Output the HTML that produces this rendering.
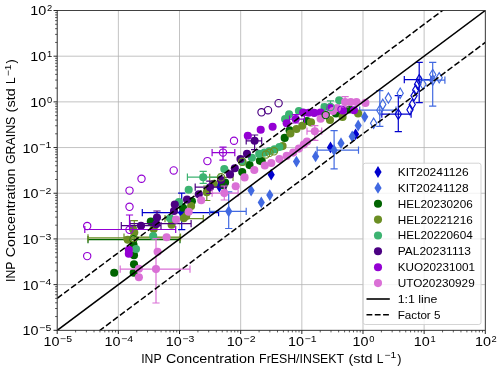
<!DOCTYPE html>
<html><head><meta charset="utf-8"><title>INP Concentration</title>
<style>html,body{margin:0;padding:0;background:#fff;}svg{display:block;will-change:transform;}text{font-family:"Liberation Sans", sans-serif;fill:#000;}</style>
</head><body>
<svg width="500" height="369" viewBox="0 0 500 369">
<rect width="500" height="369" fill="#fff"/>
<defs><clipPath id="ax"><rect x="57.2" y="10.5" width="428.1" height="319.8"/></clipPath></defs>
<path d="M57.20 10.5V330.3M57.2 330.30H485.3M118.36 10.5V330.3M57.2 284.61H485.3M179.51 10.5V330.3M57.2 238.93H485.3M240.67 10.5V330.3M57.2 193.24H485.3M301.83 10.5V330.3M57.2 147.56H485.3M362.99 10.5V330.3M57.2 101.87H485.3M424.14 10.5V330.3M57.2 56.19H485.3M485.30 10.5V330.3M57.2 10.50H485.3" stroke="#b4b4b4" stroke-width="0.8" fill="none"/>
<g clip-path="url(#ax)">
<path d="M142.3 212.6H218.6M142.3 209.0V216.2M218.6 209.0V216.2M181.7 193.1V229.7M178.1 193.1H185.3M178.1 229.7H185.3" stroke="#0000cd" stroke-width="1.2" fill="none"/>
<path d="M381.8 114.2H411.1M381.8 110.6V117.8M411.1 110.6V117.8M398.3 95.7V131.6M394.7 95.7H401.9M394.7 131.6H401.9" stroke="#0000cd" stroke-width="1.2" fill="none"/>
<path d="M404.3 79.7H431.0M404.3 76.1V83.3M431.0 76.1V83.3M419.2 62.3V102.6M415.6 62.3H422.8M415.6 102.6H422.8" stroke="#0000cd" stroke-width="1.2" fill="none"/>
<polygon points="181.7,206.7 185.3,212.6 181.7,218.5 178.1,212.6" fill="#0000cd"/>
<polygon points="219.4,180.6 223.0,186.5 219.4,192.4 215.8,186.5" fill="#0000cd"/>
<polygon points="271.2,168.8 274.8,174.7 271.2,180.6 267.6,174.7" fill="#0000cd"/>
<polygon points="330.5,141.5 334.1,147.4 330.5,153.3 326.9,147.4" fill="#0000cd"/>
<polygon points="355.6,128.4 359.2,134.3 355.6,140.2 352.0,134.3" fill="#0000cd"/>
<path d="M209.6 211.3H246.2M209.6 207.7V214.9M246.2 207.7V214.9M228.7 191.8V228.5M225.1 191.8H232.3M225.1 228.5H232.3" stroke="#4169e1" stroke-width="1.2" fill="none"/>
<path d="M317.1 150.2H358.5M317.1 146.6V153.8M358.5 146.6V153.8M334.1 130.7V168.9M330.5 130.7H337.7M330.5 168.9H337.7" stroke="#4169e1" stroke-width="1.2" fill="none"/>
<path d="M359.7 110.2H396.0M359.7 106.6V113.8M396.0 106.6V113.8M379.8 90.7V126.3M376.2 90.7H383.4M376.2 126.3H383.4" stroke="#4169e1" stroke-width="1.2" fill="none"/>
<path d="M421.0 80.2H444.9M421.0 76.6V83.8M444.9 76.6V83.8M432.7 62.3V106.2M429.1 62.3H436.3M429.1 106.2H436.3" stroke="#4169e1" stroke-width="1.2" fill="none"/>
<polygon points="228.7,205.4 232.3,211.3 228.7,217.2 225.1,211.3" fill="#4169e1"/>
<polygon points="251.1,184.7 254.7,190.6 251.1,196.5 247.5,190.6" fill="#4169e1"/>
<polygon points="261.3,196.5 264.9,202.4 261.3,208.3 257.7,202.4" fill="#4169e1"/>
<polygon points="269.8,189.2 273.4,195.1 269.8,201.0 266.2,195.1" fill="#4169e1"/>
<polygon points="296.5,155.7 300.1,161.6 296.5,167.5 292.9,161.6" fill="#4169e1"/>
<polygon points="315.6,150.5 319.2,156.4 315.6,162.3 312.0,156.4" fill="#4169e1"/>
<polygon points="334.1,144.3 337.7,150.2 334.1,156.1 330.5,150.2" fill="#4169e1"/>
<polygon points="341.0,137.3 344.6,143.2 341.0,149.1 337.4,143.2" fill="#4169e1"/>
<polygon points="352.2,130.6 355.8,136.5 352.2,142.4 348.6,136.5" fill="#4169e1"/>
<polygon points="358.2,119.6 361.8,125.5 358.2,131.4 354.6,125.5" fill="#4169e1"/>
<polygon points="364.7,110.9 368.3,116.8 364.7,122.7 361.1,116.8" fill="#4169e1"/>
<path d="M88.0 239.6H180.0M88.0 236.0V243.2M180.0 236.0V243.2" stroke="#006400" stroke-width="1.2" fill="none"/>
<circle cx="114.2" cy="272.7" r="4.05" fill="#006400"/>
<circle cx="133.7" cy="272.7" r="4.05" fill="#006400"/>
<circle cx="134.0" cy="264.3" r="4.05" fill="#006400"/>
<circle cx="134.0" cy="255.3" r="4.05" fill="#006400"/>
<circle cx="133.5" cy="244.8" r="4.05" fill="#006400"/>
<circle cx="150.8" cy="221.6" r="4.05" fill="#006400"/>
<circle cx="183.0" cy="207.8" r="4.05" fill="#006400"/>
<circle cx="191.9" cy="201.3" r="4.05" fill="#006400"/>
<circle cx="225.1" cy="182.5" r="4.05" fill="#006400"/>
<circle cx="223.5" cy="185.3" r="4.05" fill="#006400"/>
<circle cx="242.2" cy="172.0" r="4.05" fill="#006400"/>
<circle cx="249.5" cy="165.1" r="4.05" fill="#006400"/>
<circle cx="259.9" cy="160.8" r="4.05" fill="#006400"/>
<circle cx="261.7" cy="161.0" r="4.05" fill="#006400"/>
<circle cx="284.7" cy="137.9" r="4.05" fill="#006400"/>
<circle cx="289.6" cy="130.4" r="4.05" fill="#006400"/>
<circle cx="307.0" cy="121.0" r="4.05" fill="#006400"/>
<circle cx="336.0" cy="113.5" r="4.05" fill="#006400"/>
<circle cx="349.5" cy="109.5" r="4.05" fill="#006400"/>
<path d="M88.0 237.8H180.0M88.0 234.2V241.4M180.0 234.2V241.4" stroke="#6b8e23" stroke-width="1.2" fill="none"/>
<path d="M165.0 218.6H203.3M165.0 215.0V222.2M203.3 215.0V222.2" stroke="#6b8e23" stroke-width="1.2" fill="none"/>
<path d="M124.0 237.0H180.5M124.0 233.4V240.6M180.5 233.4V240.6" stroke="#6b8e23" stroke-width="1.2" fill="none"/>
<path d="M206.8 186.0V200.5M203.2 186.0H210.4M203.2 200.5H210.4" stroke="#6b8e23" stroke-width="1.2" fill="none"/>
<path d="M134.3 220.7V239.0M130.7 220.7H137.9M130.7 239.0H137.9" stroke="#6b8e23" stroke-width="1.2" fill="none"/>
<path d="M209.7 177.3H233.0M209.7 173.7V180.9M233.0 173.7V180.9" stroke="#6b8e23" stroke-width="1.2" fill="none"/>
<circle cx="127.8" cy="239.8" r="4.05" fill="#6b8e23"/>
<circle cx="134.3" cy="232.5" r="4.05" fill="#6b8e23"/>
<circle cx="133.0" cy="229.0" r="4.05" fill="#6b8e23"/>
<circle cx="153.7" cy="228.9" r="4.05" fill="#6b8e23"/>
<circle cx="171.6" cy="224.8" r="4.05" fill="#6b8e23"/>
<circle cx="183.8" cy="218.3" r="4.05" fill="#6b8e23"/>
<circle cx="186.2" cy="216.0" r="4.05" fill="#6b8e23"/>
<circle cx="191.1" cy="206.1" r="4.05" fill="#6b8e23"/>
<circle cx="206.8" cy="192.2" r="4.05" fill="#6b8e23"/>
<circle cx="213.7" cy="183.8" r="4.05" fill="#6b8e23"/>
<circle cx="282.6" cy="146.1" r="4.05" fill="#6b8e23"/>
<circle cx="290.4" cy="133.5" r="4.05" fill="#6b8e23"/>
<circle cx="296.5" cy="129.0" r="4.05" fill="#6b8e23"/>
<circle cx="302.3" cy="125.8" r="4.05" fill="#6b8e23"/>
<circle cx="311.0" cy="122.4" r="4.05" fill="#6b8e23"/>
<circle cx="330.0" cy="120.0" r="4.05" fill="#6b8e23"/>
<circle cx="342.6" cy="117.0" r="4.05" fill="#6b8e23"/>
<circle cx="358.1" cy="113.5" r="4.05" fill="#6b8e23"/>
<path d="M187.4 177.2H219.0M187.4 173.6V180.8M219.0 173.6V180.8M203.2 171.4V183.3M199.6 171.4H206.8M199.6 183.3H206.8" stroke="#3cb371" stroke-width="1.2" fill="none"/>
<path d="M322.0 107.0H339.0M322.0 103.4V110.6M339.0 103.4V110.6M330.5 100.8V113.0M326.9 100.8H334.1M326.9 113.0H334.1" stroke="#3cb371" stroke-width="1.2" fill="none"/>
<circle cx="136.0" cy="249.0" r="4.05" fill="#3cb371"/>
<circle cx="153.2" cy="236.0" r="4.05" fill="#3cb371"/>
<circle cx="170.0" cy="218.3" r="4.05" fill="#3cb371"/>
<circle cx="178.9" cy="202.0" r="4.05" fill="#3cb371"/>
<circle cx="188.7" cy="189.8" r="4.05" fill="#3cb371"/>
<circle cx="203.2" cy="177.2" r="4.05" fill="#3cb371"/>
<circle cx="224.3" cy="169.1" r="4.05" fill="#3cb371"/>
<circle cx="242.5" cy="162.0" r="4.05" fill="#3cb371"/>
<circle cx="251.9" cy="157.8" r="4.05" fill="#3cb371"/>
<circle cx="259.2" cy="153.9" r="4.05" fill="#3cb371"/>
<circle cx="279.4" cy="147.0" r="4.05" fill="#3cb371"/>
<circle cx="274.5" cy="149.4" r="4.05" fill="#3cb371"/>
<circle cx="264.5" cy="152.6" r="4.05" fill="#3cb371"/>
<circle cx="269.5" cy="151.1" r="4.05" fill="#3cb371"/>
<circle cx="285.1" cy="119.1" r="4.05" fill="#3cb371"/>
<circle cx="289.1" cy="114.3" r="4.05" fill="#3cb371"/>
<circle cx="298.9" cy="111.0" r="4.05" fill="#3cb371"/>
<circle cx="324.5" cy="107.0" r="4.05" fill="#3cb371"/>
<circle cx="339.2" cy="100.2" r="4.05" fill="#3cb371"/>
<path d="M121.3 225.7H161.0M121.3 222.1V229.3M161.0 222.1V229.3" stroke="#4b0082" stroke-width="1.2" fill="none"/>
<path d="M157.0 211.0V224.0M153.4 211.0H160.6M153.4 224.0H160.6" stroke="#4b0082" stroke-width="1.2" fill="none"/>
<path d="M130.0 223.7H191.1M130.0 220.1V227.3M191.1 220.1V227.3" stroke="#4b0082" stroke-width="1.2" fill="none"/>
<path d="M246.2 140.8H261.7M246.2 137.2V144.4M261.7 137.2V144.4M254.6 135.0V149.6M251.0 135.0H258.2M251.0 149.6H258.2" stroke="#4b0082" stroke-width="1.2" fill="none"/>
<path d="M195.2 187.2H226.0M195.2 183.6V190.8M226.0 183.6V190.8M209.8 181.1V193.5M206.2 181.1H213.4M206.2 193.5H213.4" stroke="#4b0082" stroke-width="1.2" fill="none"/>
<circle cx="141.0" cy="225.7" r="4.05" fill="#4b0082"/>
<circle cx="157.0" cy="217.5" r="4.05" fill="#4b0082"/>
<circle cx="156.1" cy="224.3" r="4.05" fill="#4b0082"/>
<circle cx="174.8" cy="204.5" r="4.05" fill="#4b0082"/>
<circle cx="174.0" cy="211.0" r="4.05" fill="#4b0082"/>
<circle cx="187.0" cy="199.6" r="4.05" fill="#4b0082"/>
<circle cx="198.8" cy="194.3" r="4.05" fill="#4b0082"/>
<circle cx="210.0" cy="187.2" r="4.05" fill="#4b0082"/>
<circle cx="221.0" cy="180.0" r="4.05" fill="#4b0082"/>
<circle cx="230.0" cy="174.4" r="4.05" fill="#4b0082"/>
<circle cx="234.8" cy="168.3" r="4.05" fill="#4b0082"/>
<circle cx="240.5" cy="159.0" r="4.05" fill="#4b0082"/>
<circle cx="247.0" cy="153.7" r="4.05" fill="#4b0082"/>
<circle cx="254.6" cy="140.8" r="4.05" fill="#4b0082"/>
<path d="M84.8 229.5H175.7M84.8 225.9V233.1M175.7 225.9V233.1M129.5 215.0V229.5M125.9 215.0H133.1M125.9 229.5H133.1" stroke="#9400d3" stroke-width="1.2" fill="none"/>
<path d="M212.1 152.6H234.8M212.1 149.0V156.2M234.8 149.0V156.2M223.0 147.2V160.2M219.4 147.2H226.6M219.4 160.2H226.6" stroke="#9400d3" stroke-width="1.2" fill="none"/>
<path d="M289.5 119.1H304.5M289.5 115.5V122.7M304.5 115.5V122.7M295.7 114.6V123.0M292.1 114.6H299.3M292.1 123.0H299.3" stroke="#9400d3" stroke-width="1.2" fill="none"/>
<circle cx="128.8" cy="249.8" r="4.05" fill="#9400d3"/>
<circle cx="128.8" cy="253.7" r="4.05" fill="#9400d3"/>
<circle cx="247.8" cy="135.8" r="4.05" fill="#9400d3"/>
<circle cx="260.7" cy="129.8" r="4.05" fill="#9400d3"/>
<circle cx="272.6" cy="126.8" r="4.05" fill="#9400d3"/>
<circle cx="286.7" cy="123.2" r="4.05" fill="#9400d3"/>
<circle cx="295.7" cy="119.1" r="4.05" fill="#9400d3"/>
<circle cx="303.2" cy="112.6" r="4.05" fill="#9400d3"/>
<circle cx="308.6" cy="112.8" r="4.05" fill="#9400d3"/>
<circle cx="314.2" cy="112.9" r="4.05" fill="#9400d3"/>
<circle cx="320.5" cy="112.5" r="4.05" fill="#9400d3"/>
<circle cx="330.0" cy="107.5" r="4.05" fill="#9400d3"/>
<circle cx="343.0" cy="110.5" r="4.05" fill="#9400d3"/>
<circle cx="354.0" cy="110.2" r="4.05" fill="#9400d3"/>
<path d="M120.2 269.1H190.0M120.2 265.5V272.7M190.0 265.5V272.7M156.0 238.7V303.0M152.4 238.7H159.6M152.4 303.0H159.6" stroke="#da70d6" stroke-width="1.2" fill="none"/>
<path d="M212.1 193.1H238.1M212.1 189.5V196.7M238.1 189.5V196.7M224.3 186.0V200.0M220.7 186.0H227.9M220.7 200.0H227.9" stroke="#da70d6" stroke-width="1.2" fill="none"/>
<path d="M307.0 131.2H321.7M307.0 127.6V134.8M321.7 127.6V134.8M314.8 125.7V140.3M311.2 125.7H318.4M311.2 140.3H318.4" stroke="#da70d6" stroke-width="1.2" fill="none"/>
<path d="M345.1 96.7V107.0M341.5 96.7H348.7M341.5 107.0H348.7" stroke="#da70d6" stroke-width="1.2" fill="none"/>
<circle cx="138.9" cy="268.7" r="4.05" fill="#da70d6"/>
<circle cx="138.9" cy="277.3" r="4.05" fill="#da70d6"/>
<circle cx="157.6" cy="251.7" r="4.05" fill="#da70d6"/>
<circle cx="156.0" cy="269.1" r="4.05" fill="#da70d6"/>
<circle cx="166.6" cy="237.2" r="4.05" fill="#da70d6"/>
<circle cx="176.0" cy="219.5" r="4.05" fill="#da70d6"/>
<circle cx="188.7" cy="211.8" r="4.05" fill="#da70d6"/>
<circle cx="201.2" cy="200.2" r="4.05" fill="#da70d6"/>
<circle cx="224.3" cy="193.1" r="4.05" fill="#da70d6"/>
<circle cx="235.7" cy="186.2" r="4.05" fill="#da70d6"/>
<circle cx="244.6" cy="177.4" r="4.05" fill="#da70d6"/>
<circle cx="254.3" cy="170.0" r="4.05" fill="#da70d6"/>
<circle cx="264.8" cy="165.5" r="4.05" fill="#da70d6"/>
<circle cx="271.3" cy="163.0" r="4.05" fill="#da70d6"/>
<circle cx="279.4" cy="159.1" r="4.05" fill="#da70d6"/>
<circle cx="286.7" cy="155.9" r="4.05" fill="#da70d6"/>
<circle cx="293.2" cy="152.6" r="4.05" fill="#da70d6"/>
<circle cx="298.9" cy="148.6" r="4.05" fill="#da70d6"/>
<circle cx="303.8" cy="144.5" r="4.05" fill="#da70d6"/>
<circle cx="307.0" cy="141.5" r="4.05" fill="#da70d6"/>
<circle cx="314.8" cy="131.2" r="4.05" fill="#da70d6"/>
<circle cx="320.6" cy="118.7" r="4.05" fill="#da70d6"/>
<circle cx="326.0" cy="115.0" r="4.05" fill="#da70d6"/>
<circle cx="333.0" cy="111.0" r="4.05" fill="#da70d6"/>
<circle cx="337.0" cy="108.0" r="4.05" fill="#da70d6"/>
<circle cx="345.1" cy="102.1" r="4.05" fill="#da70d6"/>
<circle cx="350.8" cy="102.1" r="4.05" fill="#da70d6"/>
<circle cx="356.5" cy="102.1" r="4.05" fill="#da70d6"/>
<circle cx="365.4" cy="102.9" r="4.05" fill="#da70d6"/>
<polygon points="398.3,109.0 401.4,114.2 398.3,119.4 395.2,114.2" fill="none" stroke="#0000cd" stroke-width="1.15" stroke-linejoin="miter"/>
<polygon points="410.0,104.6 413.1,109.8 410.0,115.0 406.9,109.8" fill="none" stroke="#0000cd" stroke-width="1.15" stroke-linejoin="miter"/>
<polygon points="412.2,99.3 415.3,104.5 412.2,109.7 409.1,104.5" fill="none" stroke="#0000cd" stroke-width="1.15" stroke-linejoin="miter"/>
<polygon points="414.0,90.5 417.1,95.7 414.0,100.9 410.9,95.7" fill="none" stroke="#0000cd" stroke-width="1.15" stroke-linejoin="miter"/>
<polygon points="415.7,84.8 418.8,90.0 415.7,95.2 412.6,90.0" fill="none" stroke="#0000cd" stroke-width="1.15" stroke-linejoin="miter"/>
<polygon points="417.6,79.1 420.8,84.3 417.6,89.5 414.5,84.3" fill="none" stroke="#0000cd" stroke-width="1.15" stroke-linejoin="miter"/>
<polygon points="419.2,74.5 422.3,79.7 419.2,84.9 416.1,79.7" fill="none" stroke="#0000cd" stroke-width="1.15" stroke-linejoin="miter"/>
<polygon points="373.6,118.1 376.8,123.3 373.6,128.4 370.5,123.3" fill="none" stroke="#4169e1" stroke-width="1.15" stroke-linejoin="miter"/>
<polygon points="379.8,105.0 382.9,110.2 379.8,115.4 376.7,110.2" fill="none" stroke="#4169e1" stroke-width="1.15" stroke-linejoin="miter"/>
<polygon points="382.8,99.2 385.9,104.4 382.8,109.6 379.7,104.4" fill="none" stroke="#4169e1" stroke-width="1.15" stroke-linejoin="miter"/>
<polygon points="388.4,92.9 391.5,98.1 388.4,103.2 385.2,98.1" fill="none" stroke="#4169e1" stroke-width="1.15" stroke-linejoin="miter"/>
<polygon points="400.2,88.0 403.3,93.2 400.2,98.4 397.1,93.2" fill="none" stroke="#4169e1" stroke-width="1.15" stroke-linejoin="miter"/>
<polygon points="423.0,79.1 426.1,84.3 423.0,89.5 419.9,84.3" fill="none" stroke="#4169e1" stroke-width="1.15" stroke-linejoin="miter"/>
<polygon points="432.7,75.0 435.8,80.2 432.7,85.4 429.6,80.2" fill="none" stroke="#4169e1" stroke-width="1.15" stroke-linejoin="miter"/>
<polygon points="432.7,69.3 435.8,74.5 432.7,79.7 429.6,74.5" fill="none" stroke="#4169e1" stroke-width="1.15" stroke-linejoin="miter"/>
<polygon points="439.2,72.6 442.3,77.8 439.2,83.0 436.1,77.8" fill="none" stroke="#4169e1" stroke-width="1.15" stroke-linejoin="miter"/>
<circle cx="133.5" cy="239.3" r="3.65" fill="none" stroke="#006400" stroke-width="1.15"/>
<circle cx="325.7" cy="115.1" r="3.65" fill="none" stroke="#006400" stroke-width="1.15"/>
<circle cx="133.5" cy="238.0" r="3.65" fill="none" stroke="#6b8e23" stroke-width="1.15"/>
<circle cx="221.0" cy="177.3" r="3.65" fill="none" stroke="#6b8e23" stroke-width="1.15"/>
<circle cx="242.2" cy="161.8" r="3.65" fill="none" stroke="#6b8e23" stroke-width="1.15"/>
<circle cx="266.0" cy="154.5" r="3.65" fill="none" stroke="#6b8e23" stroke-width="1.15"/>
<circle cx="269.5" cy="152.8" r="3.65" fill="none" stroke="#6b8e23" stroke-width="1.15"/>
<circle cx="274.0" cy="151.3" r="3.65" fill="none" stroke="#6b8e23" stroke-width="1.15"/>
<circle cx="330.5" cy="107.0" r="3.65" fill="none" stroke="#3cb371" stroke-width="1.15"/>
<circle cx="261.5" cy="112.3" r="3.65" fill="none" stroke="#4b0082" stroke-width="1.15"/>
<circle cx="268.0" cy="110.2" r="3.65" fill="none" stroke="#4b0082" stroke-width="1.15"/>
<circle cx="278.6" cy="103.2" r="3.65" fill="none" stroke="#4b0082" stroke-width="1.15"/>
<circle cx="87.2" cy="226.0" r="3.65" fill="none" stroke="#9400d3" stroke-width="1.15"/>
<circle cx="87.2" cy="256.1" r="3.65" fill="none" stroke="#9400d3" stroke-width="1.15"/>
<circle cx="129.5" cy="190.6" r="3.65" fill="none" stroke="#9400d3" stroke-width="1.15"/>
<circle cx="129.5" cy="206.8" r="3.65" fill="none" stroke="#9400d3" stroke-width="1.15"/>
<circle cx="129.5" cy="229.8" r="3.65" fill="none" stroke="#9400d3" stroke-width="1.15"/>
<circle cx="141.5" cy="178.7" r="3.65" fill="none" stroke="#9400d3" stroke-width="1.15"/>
<circle cx="173.7" cy="170.4" r="3.65" fill="none" stroke="#9400d3" stroke-width="1.15"/>
<circle cx="207.4" cy="161.1" r="3.65" fill="none" stroke="#9400d3" stroke-width="1.15"/>
<circle cx="223.0" cy="152.6" r="3.65" fill="none" stroke="#9400d3" stroke-width="1.15"/>
<circle cx="234.0" cy="140.7" r="3.65" fill="none" stroke="#9400d3" stroke-width="1.15"/>
<circle cx="341.5" cy="109.6" r="3.65" fill="none" stroke="#9400d3" stroke-width="1.15"/>
<path d="M57.2 330.3L485.3 10.5" stroke="#000" stroke-width="1.55" fill="none"/>
<path d="M57.2 298.37L485.3 -21.43M57.2 362.23L485.3 42.43" stroke="#000" stroke-width="1.5" stroke-dasharray="6.1 2.6" fill="none"/>
</g>
<path d="M57.20 330.3v3.7M57.2 330.30h-3.7M118.36 330.3v3.7M57.2 284.61h-3.7M179.51 330.3v3.7M57.2 238.93h-3.7M240.67 330.3v3.7M57.2 193.24h-3.7M301.83 330.3v3.7M57.2 147.56h-3.7M362.99 330.3v3.7M57.2 101.87h-3.7M424.14 330.3v3.7M57.2 56.19h-3.7M485.30 330.3v3.7M57.2 10.50h-3.7" stroke="#000" stroke-width="0.85" fill="none"/>
<path d="M75.61 330.3v2.1M57.2 316.55h-2.1M86.38 330.3v2.1M57.2 308.50h-2.1M94.02 330.3v2.1M57.2 302.79h-2.1M99.95 330.3v2.1M57.2 298.37h-2.1M104.79 330.3v2.1M57.2 294.75h-2.1M108.88 330.3v2.1M57.2 291.69h-2.1M112.43 330.3v2.1M57.2 289.04h-2.1M115.56 330.3v2.1M57.2 286.70h-2.1M136.77 330.3v2.1M57.2 270.86h-2.1M147.54 330.3v2.1M57.2 262.82h-2.1M155.18 330.3v2.1M57.2 257.11h-2.1M161.10 330.3v2.1M57.2 252.68h-2.1M165.95 330.3v2.1M57.2 249.06h-2.1M170.04 330.3v2.1M57.2 246.01h-2.1M173.59 330.3v2.1M57.2 243.36h-2.1M176.72 330.3v2.1M57.2 241.02h-2.1M197.92 330.3v2.1M57.2 225.18h-2.1M208.69 330.3v2.1M57.2 217.13h-2.1M216.33 330.3v2.1M57.2 211.42h-2.1M222.26 330.3v2.1M57.2 207.00h-2.1M227.10 330.3v2.1M57.2 203.38h-2.1M231.20 330.3v2.1M57.2 200.32h-2.1M234.74 330.3v2.1M57.2 197.67h-2.1M237.87 330.3v2.1M57.2 195.33h-2.1M259.08 330.3v2.1M57.2 179.49h-2.1M269.85 330.3v2.1M57.2 171.45h-2.1M277.49 330.3v2.1M57.2 165.74h-2.1M283.42 330.3v2.1M57.2 161.31h-2.1M288.26 330.3v2.1M57.2 157.69h-2.1M292.36 330.3v2.1M57.2 154.63h-2.1M295.90 330.3v2.1M57.2 151.98h-2.1M299.03 330.3v2.1M57.2 149.65h-2.1M320.24 330.3v2.1M57.2 133.80h-2.1M331.01 330.3v2.1M57.2 125.76h-2.1M338.65 330.3v2.1M57.2 120.05h-2.1M344.58 330.3v2.1M57.2 115.62h-2.1M349.42 330.3v2.1M57.2 112.01h-2.1M353.51 330.3v2.1M57.2 108.95h-2.1M357.06 330.3v2.1M57.2 106.30h-2.1M360.19 330.3v2.1M57.2 103.96h-2.1M381.40 330.3v2.1M57.2 88.12h-2.1M392.17 330.3v2.1M57.2 80.07h-2.1M399.81 330.3v2.1M57.2 74.37h-2.1M405.73 330.3v2.1M57.2 69.94h-2.1M410.58 330.3v2.1M57.2 66.32h-2.1M414.67 330.3v2.1M57.2 63.26h-2.1M418.22 330.3v2.1M57.2 60.61h-2.1M421.34 330.3v2.1M57.2 58.28h-2.1M442.55 330.3v2.1M57.2 42.43h-2.1M453.32 330.3v2.1M57.2 34.39h-2.1M460.96 330.3v2.1M57.2 28.68h-2.1M466.89 330.3v2.1M57.2 24.25h-2.1M471.73 330.3v2.1M57.2 20.64h-2.1M475.83 330.3v2.1M57.2 17.58h-2.1M479.37 330.3v2.1M57.2 14.93h-2.1M482.50 330.3v2.1M57.2 12.59h-2.1" stroke="#000" stroke-width="0.65" fill="none"/>
<rect x="57.2" y="10.5" width="428.1" height="319.8" fill="none" stroke="#222" stroke-width="0.8"/>
<text x="43.4" y="346.4" font-size="12.7" textLength="16.0" lengthAdjust="spacingAndGlyphs">10</text><text x="60.1" y="342.3" font-size="9.1" textLength="12.0" lengthAdjust="spacingAndGlyphs">−5</text>
<text x="22.6" y="335.2" font-size="12.7" textLength="16.0" lengthAdjust="spacingAndGlyphs">10</text><text x="39.3" y="331.1" font-size="9.1" textLength="12.0" lengthAdjust="spacingAndGlyphs">−5</text>
<text x="104.5" y="346.4" font-size="12.7" textLength="16.0" lengthAdjust="spacingAndGlyphs">10</text><text x="121.2" y="342.3" font-size="9.1" textLength="12.0" lengthAdjust="spacingAndGlyphs">−4</text>
<text x="22.6" y="289.5" font-size="12.7" textLength="16.0" lengthAdjust="spacingAndGlyphs">10</text><text x="39.3" y="285.4" font-size="9.1" textLength="12.0" lengthAdjust="spacingAndGlyphs">−4</text>
<text x="165.7" y="346.4" font-size="12.7" textLength="16.0" lengthAdjust="spacingAndGlyphs">10</text><text x="182.4" y="342.3" font-size="9.1" textLength="12.0" lengthAdjust="spacingAndGlyphs">−3</text>
<text x="22.6" y="243.8" font-size="12.7" textLength="16.0" lengthAdjust="spacingAndGlyphs">10</text><text x="39.3" y="239.7" font-size="9.1" textLength="12.0" lengthAdjust="spacingAndGlyphs">−3</text>
<text x="226.8" y="346.4" font-size="12.7" textLength="16.0" lengthAdjust="spacingAndGlyphs">10</text><text x="243.5" y="342.3" font-size="9.1" textLength="12.0" lengthAdjust="spacingAndGlyphs">−2</text>
<text x="22.6" y="198.1" font-size="12.7" textLength="16.0" lengthAdjust="spacingAndGlyphs">10</text><text x="39.3" y="194.0" font-size="9.1" textLength="12.0" lengthAdjust="spacingAndGlyphs">−2</text>
<text x="288.0" y="346.4" font-size="12.7" textLength="16.0" lengthAdjust="spacingAndGlyphs">10</text><text x="304.7" y="342.3" font-size="9.1" textLength="12.0" lengthAdjust="spacingAndGlyphs">−1</text>
<text x="22.6" y="152.5" font-size="12.7" textLength="16.0" lengthAdjust="spacingAndGlyphs">10</text><text x="39.3" y="148.4" font-size="9.1" textLength="12.0" lengthAdjust="spacingAndGlyphs">−1</text>
<text x="352.5" y="346.4" font-size="12.7" textLength="16.0" lengthAdjust="spacingAndGlyphs">10</text><text x="369.2" y="342.3" font-size="9.1" textLength="5.2" lengthAdjust="spacingAndGlyphs">0</text>
<text x="30.2" y="106.8" font-size="12.7" textLength="16.0" lengthAdjust="spacingAndGlyphs">10</text><text x="46.9" y="102.7" font-size="9.1" textLength="5.2" lengthAdjust="spacingAndGlyphs">0</text>
<text x="413.7" y="346.4" font-size="12.7" textLength="16.0" lengthAdjust="spacingAndGlyphs">10</text><text x="430.4" y="342.3" font-size="9.1" textLength="5.2" lengthAdjust="spacingAndGlyphs">1</text>
<text x="30.2" y="61.1" font-size="12.7" textLength="16.0" lengthAdjust="spacingAndGlyphs">10</text><text x="46.9" y="57.0" font-size="9.1" textLength="5.2" lengthAdjust="spacingAndGlyphs">1</text>
<text x="474.9" y="346.4" font-size="12.7" textLength="16.0" lengthAdjust="spacingAndGlyphs">10</text><text x="491.6" y="342.3" font-size="9.1" textLength="5.2" lengthAdjust="spacingAndGlyphs">2</text>
<text x="30.2" y="15.4" font-size="12.7" textLength="16.0" lengthAdjust="spacingAndGlyphs">10</text><text x="46.9" y="11.3" font-size="9.1" textLength="5.2" lengthAdjust="spacingAndGlyphs">2</text>
<g transform="translate(271.7 362.6)"><text x="-130.5" y="0" font-size="12.7" textLength="20.4" lengthAdjust="spacingAndGlyphs">INP</text><text x="-105.7" y="0" font-size="12.7" textLength="88.8" lengthAdjust="spacingAndGlyphs">Concentration</text><text x="-12.6" y="0" font-size="12.7" textLength="85.0" lengthAdjust="spacingAndGlyphs">FrESH/INSEKT</text><text x="76.7" y="0" font-size="12.7" textLength="24.1" lengthAdjust="spacingAndGlyphs">(std</text><text x="105.1" y="0" font-size="12.7" textLength="6.7" lengthAdjust="spacingAndGlyphs">L</text><text x="112.8" y="-4.3" font-size="9.0" textLength="11.8" lengthAdjust="spacingAndGlyphs">−1</text><text x="125.6" y="0" font-size="12.7">)</text></g>
<g transform="translate(15.3 170.3) rotate(-90)"><text x="-111.7" y="0" font-size="12.7" textLength="20.4" lengthAdjust="spacingAndGlyphs">INP</text><text x="-87.0" y="0" font-size="12.7" textLength="88.8" lengthAdjust="spacingAndGlyphs">Concentration</text><text x="6.2" y="0" font-size="12.7" textLength="47.5" lengthAdjust="spacingAndGlyphs">GRAINS</text><text x="57.9" y="0" font-size="12.7" textLength="24.1" lengthAdjust="spacingAndGlyphs">(std</text><text x="86.4" y="0" font-size="12.7" textLength="6.7" lengthAdjust="spacingAndGlyphs">L</text><text x="94.1" y="-4.3" font-size="9.0" textLength="11.8" lengthAdjust="spacingAndGlyphs">−1</text><text x="106.9" y="0" font-size="12.7">)</text></g>
<rect x="363.2" y="163.2" width="117.8" height="161.3" rx="2.2" fill="#fff" fill-opacity="0.8" stroke="#ccc" stroke-width="0.85"/>
<polygon points="378.0,166.1 381.6,172.0 378.0,177.9 374.4,172.0" fill="#0000cd"/>
<text x="397.7" y="175.9" font-size="10.8" textLength="71.0" lengthAdjust="spacingAndGlyphs">KIT20241126</text>
<polygon points="378.0,182.0 381.6,187.9 378.0,193.8 374.4,187.9" fill="#4169e1"/>
<text x="397.7" y="191.8" font-size="10.8" textLength="71.0" lengthAdjust="spacingAndGlyphs">KIT20241128</text>
<circle cx="378.0" cy="203.7" r="4.05" fill="#006400"/>
<text x="397.7" y="207.6" font-size="10.8" textLength="75.0" lengthAdjust="spacingAndGlyphs">HEL20230206</text>
<circle cx="378.0" cy="219.6" r="4.05" fill="#6b8e23"/>
<text x="397.7" y="223.5" font-size="10.8" textLength="75.0" lengthAdjust="spacingAndGlyphs">HEL20221216</text>
<circle cx="378.0" cy="235.5" r="4.05" fill="#3cb371"/>
<text x="397.7" y="239.4" font-size="10.8" textLength="75.0" lengthAdjust="spacingAndGlyphs">HEL20220604</text>
<circle cx="378.0" cy="251.3" r="4.05" fill="#4b0082"/>
<text x="397.7" y="255.2" font-size="10.8" textLength="73.3" lengthAdjust="spacingAndGlyphs">PAL20231113</text>
<circle cx="378.0" cy="267.2" r="4.05" fill="#9400d3"/>
<text x="397.7" y="271.1" font-size="10.8" textLength="77.2" lengthAdjust="spacingAndGlyphs">KUO20231001</text>
<circle cx="378.0" cy="283.1" r="4.05" fill="#da70d6"/>
<text x="397.7" y="287.0" font-size="10.8" textLength="77.0" lengthAdjust="spacingAndGlyphs">UTO20230929</text>
<path d="M366.5 299.0H389.8" stroke="#000" stroke-width="1.6"/>
<text x="397.7" y="302.9" font-size="10.8" textLength="39.8" lengthAdjust="spacingAndGlyphs">1:1 line</text>
<path d="M366.5 314.8H389.8" stroke="#000" stroke-width="1.6" stroke-dasharray="5.8 2.5"/>
<text x="397.7" y="318.7" font-size="10.8" textLength="42.8" lengthAdjust="spacingAndGlyphs">Factor 5</text>
</svg></body></html>
